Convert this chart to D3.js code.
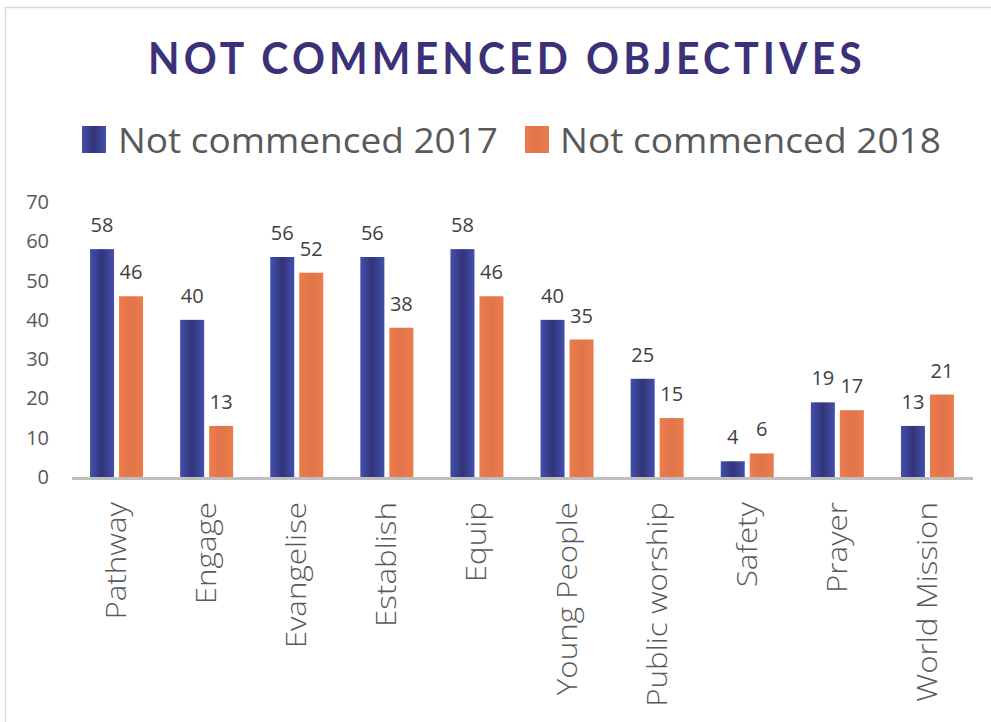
<!DOCTYPE html>
<html><head><meta charset="utf-8">
<script src="https://cdn.jsdelivr.net/npm/d3@7"></script>
<style>body{margin:0;background:#fff}svg{display:block}</style>
</head><body>
<svg id="c" width="991" height="722"></svg>
<script>
const categories = ["Pathway","Engage","Evangelise","Establish","Equip","Young People","Public worship","Safety","Prayer","World Mission"];
const seriesNames = ["Not commenced 2017","Not commenced 2018"];
const values2017 = [58,40,56,56,58,40,25,4,19,13];
const values2018 = [46,13,52,38,46,35,15,6,17,21];
const yTicks = [0,10,20,30,40,50,60,70];

const svg = d3.select("#c");
const defs = svg.append("defs");
function grad(id, edge, mid){
  const g = defs.append("linearGradient").attr("id",id).attr("x1","0").attr("x2","1").attr("y1","0").attr("y2","0");
  g.append("stop").attr("offset","0").attr("stop-color",edge);
  g.append("stop").attr("offset","0.5").attr("stop-color",mid);
  g.append("stop").attr("offset","1").attr("stop-color",edge);
}
grad("gb","#4250ad","#333479");
grad("go","#ec7c4a","#e0744b");
const fills = ["url(#gb)","url(#go)"];

// frame
svg.append("rect").attr("x",5.5).attr("y",7.5).attr("width",1200).attr("height",1000)
  .attr("fill","none").attr("stroke","#d9d9d9").attr("stroke-width",1.5);

// title: letter-spaced, scaled to the target width
const titleText = "NOT COMMENCED OBJECTIVES";
const title = svg.append("text").attr("x",0).attr("y",74)
  .attr("font-family","Lato").attr("font-weight",700).attr("font-size",44)
  .attr("letter-spacing",4.5)
  .attr("fill","#3b3179").text(titleText);
const targetW = 714, titleLeft = 148;
const bb = title.node().getBBox();
const w = bb.width - 4.5;
title.attr("transform",`translate(${titleLeft},0) scale(${targetW/w},1)`);

// legend
const leg = [{x:82, tx:118, tw:380},{x:525, tx:560, tw:381}];
leg.forEach((l,i)=>{
  svg.append("rect").attr("x",l.x).attr("y",126).attr("width",24).attr("height",27).attr("fill",fills[i]);
  svg.append("text").attr("x",l.tx).attr("y",153).attr("font-family","Open Sans").attr("font-size",35)
    .attr("fill","#595959").attr("textLength",l.tw).attr("lengthAdjust","spacingAndGlyphs").text(seriesNames[i]);
});

const x0 = d3.scaleBand().domain(categories).range([72,973]);
const y = d3.scaleLinear().domain([0,70]).range([477,202]);
const barW = 24, gap = 5;

// y axis labels
svg.append("g").selectAll("text").data(yTicks).join("text")
  .attr("x",49).attr("y",d=>y(d)+7).attr("text-anchor","end")
  .attr("font-family","Open Sans").attr("font-size",20).attr("fill","#595959").text(d=>d);

const data = categories.map((c,i)=>({c, v:[values2017[i],values2018[i]]}));
const g = svg.append("g");
data.forEach(d=>{
  const cx = x0(d.c) + x0.bandwidth()/2 - 0.5;
  d.v.forEach((v,j)=>{
    const bx = j===0 ? cx - gap/2 - barW : cx + gap/2;
    g.append("rect").attr("x",bx).attr("y",y(v)).attr("width",barW).attr("height",y(0)-y(v)).attr("fill",fills[j]);
    g.append("text").attr("x",bx+barW/2).attr("y",y(v)-17).attr("text-anchor","middle")
      .attr("font-family","Open Sans").attr("font-size",20).attr("fill","#404040").text(v);
  });
  g.append("text").attr("transform",`translate(${cx+9.5},502) rotate(-90) scale(1.12,1)`).attr("text-anchor","end")
    .attr("font-family","Open Sans").attr("font-weight",300).attr("font-size",28).attr("fill","#595959").text(d.c);
});

// x axis line
svg.append("line").attr("x1",72).attr("x2",973).attr("y1",478.5).attr("y2",478.5)
  .attr("stroke","#bfbfbf").attr("stroke-width",3);
</script>
</body></html>
